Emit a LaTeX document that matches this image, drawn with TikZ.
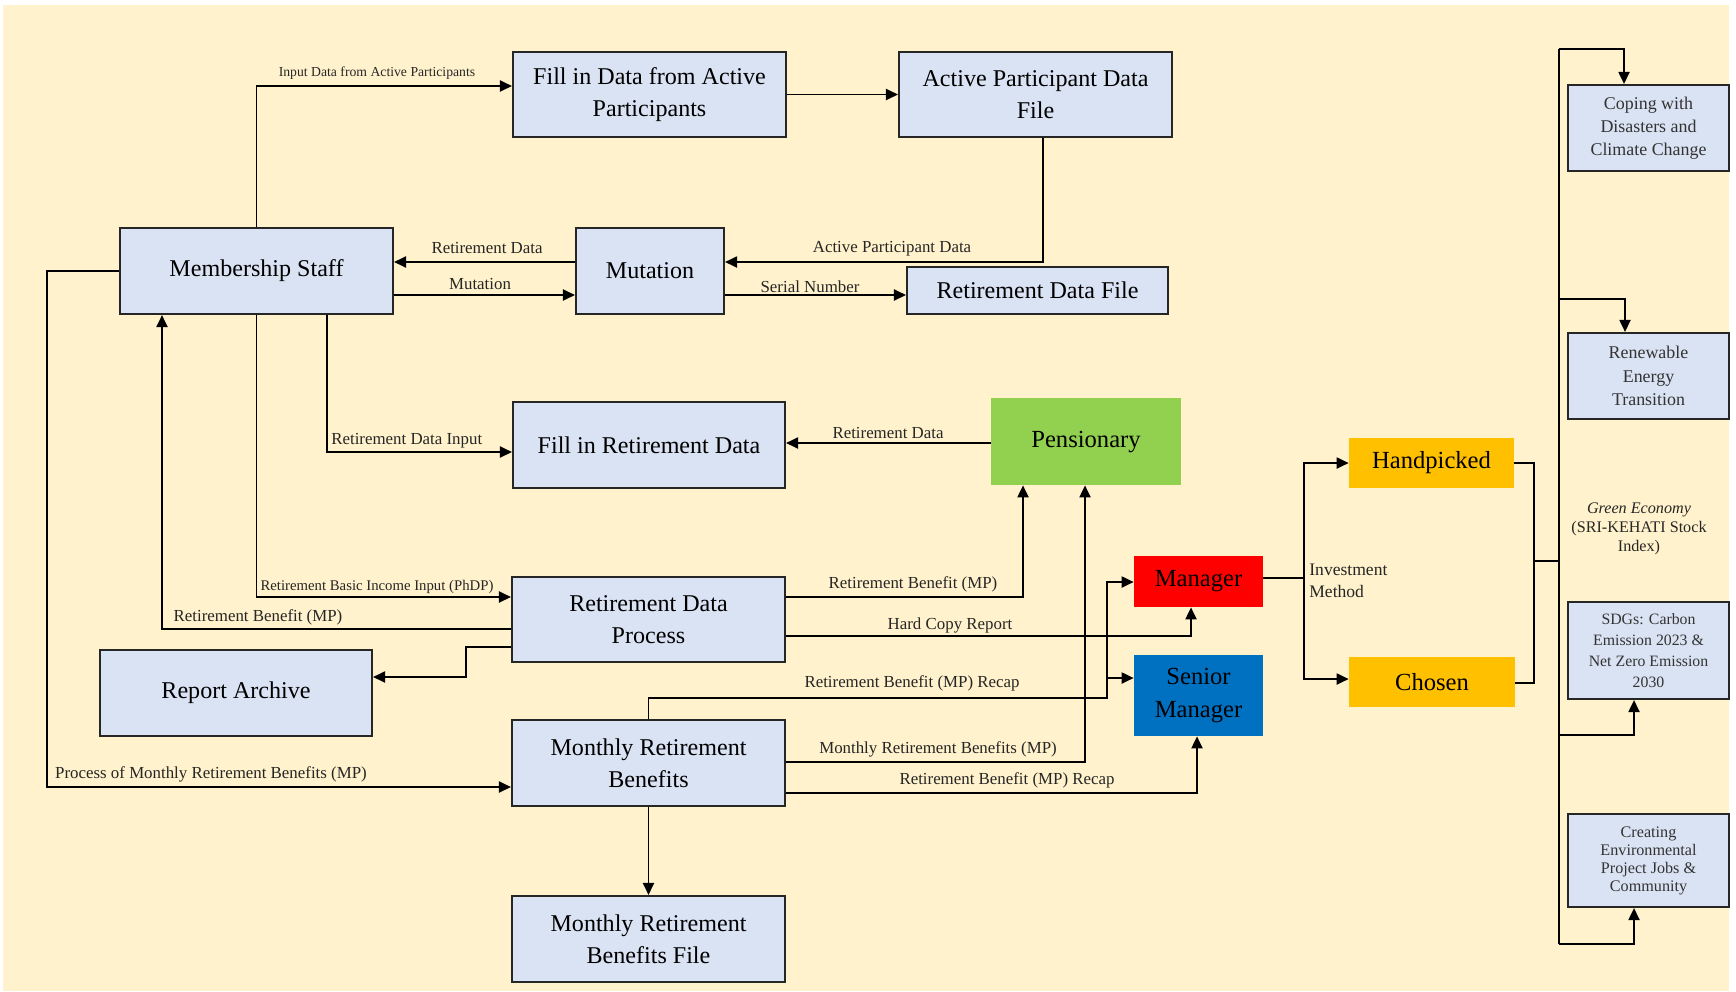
\documentclass[tikz,border=0pt]{standalone}
\usepackage{fontspec}
\setmainfont{Liberation Serif}
\usetikzlibrary{arrows.meta}
\definecolor{cream}{HTML}{FFF2CC}
\definecolor{boxblue}{HTML}{DAE3F3}
\definecolor{pensgreen}{HTML}{92D050}
\definecolor{mgrred}{HTML}{FF0000}
\definecolor{smgrblue}{HTML}{0070C0}
\definecolor{pickyellow}{HTML}{FFC000}

\begin{document}
\begin{tikzpicture}[x=0.02cm, y=-0.02cm,
                    dfd box/.style={draw=black!85, line width=1.2pt, fill=boxblue, align=center, inner sep=1pt,
                        font=\fontsize{13.7}{18}\selectfont},
                    actor box/.style={fill=#1, align=center, inner sep=1pt, font=\fontsize{14}{19}\selectfont},
                    goal box/.style={dfd box, minimum width=3.22cm, text=black!80},
                    link/.style={line width=1.1pt},
                    flow/.style={link, -{Triangle[length=0.24cm,width=0.22cm]}},
                    lbl/.style={inner sep=0pt, text=black!85, font=\fontsize{9.6}{12}\selectfont}]
% background and page size
\useasboundingbox (0,0) rectangle (1736,991);
\fill[cream] (3,5) rectangle (1729,991);

% data flow boxes
\node[dfd box, minimum width=5.46cm, minimum height=1.72cm] (ms) at (256.5,271) {Membership Staff};
\node[dfd box, minimum width=5.46cm, minimum height=1.70cm] (fillact) at (649.5,94.5) {Fill in Data from Active\\Participants};
\node[dfd box, minimum width=5.46cm, minimum height=1.70cm] (apdf) at (1035.5,94.5) {Active Participant Data\\File};
\node[dfd box, minimum width=2.96cm, minimum height=1.72cm] (mut) at (650,271) {Mutation};
\node[dfd box, minimum width=5.22cm, minimum height=0.94cm] (rdf) at (1037.5,290.5) {Retirement Data File};
\node[dfd box, minimum width=5.44cm, minimum height=1.72cm] (fillret) at (649,445) {Fill in Retirement Data};
\node[dfd box, minimum width=5.46cm, minimum height=1.70cm] (rdp) at (648.5,619.5) {Retirement Data\\Process};
\node[dfd box, minimum width=5.44cm, minimum height=1.72cm] (arch) at (236,693) {Report Archive};
\node[dfd box, minimum width=5.46cm, minimum height=1.72cm] (mrb) at (648.5,763) {Monthly Retirement\\Benefits};
\node[dfd box, minimum width=5.46cm, minimum height=1.72cm] (mrbf) at (648.5,939) {Monthly Retirement\\Benefits File};

% actors
\node[actor box=pensgreen, minimum width=3.8cm, minimum height=1.74cm] (pens) at (1086,441.5) {Pensionary};
\node[actor box=mgrred, minimum width=2.58cm, minimum height=1.02cm] (mgr) at (1198.5,581.5) {Manager};
\node[actor box=smgrblue, minimum width=2.58cm, minimum height=1.62cm] (smgr) at (1198.5,695.5) {Senior\\Manager};
\node[actor box=pickyellow, minimum width=3.3cm, minimum height=1.0cm] (hand) at (1431.5,463) {Handpicked};
\node[actor box=pickyellow, minimum width=3.32cm, minimum height=1.0cm] (chosen) at (1432,682) {Chosen};

% green economy goals
\node[goal box, minimum height=1.72cm, font=\fontsize{10.2}{13}\selectfont] (coping) at (1648.5,128) {Coping with\\Disasters and\\Climate Change};
\node[goal box, minimum height=1.72cm, font=\fontsize{10.2}{13.2}\selectfont] (renew) at (1648.5,376) {Renewable\\Energy\\Transition};
\node[goal box, minimum height=1.94cm, font=\fontsize{9}{11.8}\selectfont] (sdg) at (1648.5,650.5) {SDGs: Carbon\\Emission 2023 \&\\Net Zero Emission\\2030};
\node[goal box, minimum height=1.86cm, font=\fontsize{9.2}{10.2}\selectfont] (creat) at (1648.5,860.5) {Creating\\Environmental\\Project Jobs \&\\Community};
\node[lbl, align=center, font=\fontsize{9.2}{10.8}\selectfont] (green) at (1639,529) {\textit{Green Economy}\\(SRI-KEHATI Stock\\Index)};

% upper flows
\draw[flow] (ms.north) |- (fillact.west |- 0,86);
\draw[flow] (fillact.east) -- (apdf.west);
\draw[flow] (1043,0 |- apdf.south) |- (mut.east |- 0,262);
\draw[flow] (mut.west |- 0,262) -- (ms.east |- 0,262);
\draw[flow] (ms.east |- 0,295) -- (mut.west |- 0,295);
\draw[flow] (mut.east |- 0,295) -- (rdf.west |- 0,295);
\draw[flow] (327,0 |- ms.south) |- (fillret.west |- 0,452);
\draw[flow] (pens.west |- 0,443) -- (fillret.east |- 0,443);

% flows around the retirement data process
\draw[flow] (ms.south) |- (rdp.west |- 0,597);
\draw[flow] (rdp.west |- 0,629) -| (162,0 |- ms.south);
\draw[flow] (rdp.west |- 0,647) -| (466,677) -- (arch.east |- 0,677);
\draw[flow] (rdp.east |- 0,597) -| (1023,0 |- pens.south);
\draw[flow] (rdp.east |- 0,636) -| (1191,0 |- mgr.south);

% monthly benefits flows
\draw[flow] (ms.west) -- (47,0 |- ms.west) |- (mrb.west |- 0,787);
\coordinate (recap) at (1107,698); % split point of the recap line
\draw[flow] (mrb.north) |- (recap) |- (mgr.west |- 0,582);
\draw[flow] (recap) |- (smgr.west |- 0,678);
\draw[flow] (mrb.east |- 0,762) -| (1085,0 |- pens.south);
\draw[flow] (mrb.east |- 0,793) -| (1197,0 |- smgr.south);
\draw[flow] (mrb.south) -- (mrbf.north);

% investment method
\coordinate (invest) at (1304,578); % branch point after the manager
\draw[link] (mgr.east |- invest) -- (invest);
\draw[flow] (invest) |- (hand.west);
\draw[flow] (invest) |- (chosen.west |- 0,679);
\coordinate (pick) at (1534,561); % handpicked and chosen meet
\coordinate (ttop) at (1559,49); % top of the green economy line
\coordinate (tbot) at (1559,944); % bottom of the green economy line
\draw[link] (hand.east) -| (pick);
\draw[link] (chosen.east |- 0,683) -| (pick) -- (pick -| ttop);
\draw[link] (ttop) -- (tbot);
\draw[flow] (ttop) -| (1624,0 |- coping.north);
\draw[flow] (ttop |- 0,299) -| (1625,0 |- renew.north);
\draw[flow] (ttop |- 0,735) -| (1634,0 |- sdg.south);
\draw[flow] (tbot) -| (1634,0 |- creat.south);

% flow labels
\node[lbl, font=\fontsize{7.8}{9}\selectfont] (l-input) at (377,73) {Input Data from Active Participants};
\node[lbl] (l-retdata) at (487,248) {Retirement Data};
\node[lbl] (l-mut) at (480,284) {Mutation};
\node[lbl] (l-apd) at (892,249) {Active Participant Data};
\node[lbl] (l-serial) at (810,287) {Serial Number};
\node[lbl, anchor=west] (l-retinput) at (331,441) {Retirement Data Input};
\node[lbl] (l-pensdata) at (888,433) {Retirement Data};
\node[lbl, font=\fontsize{8.4}{10}\selectfont] (l-phdp) at (377,587) {Retirement Basic Income Input (PhDP)};
\node[lbl] (l-benefit) at (258,617) {Retirement Benefit (MP)};
\node[lbl] (l-process) at (211,774) {Process of Monthly Retirement Benefits (MP)};
\node[lbl] (l-pensben) at (913,584) {Retirement Benefit (MP)};
\node[lbl] (l-hard) at (950,625) {Hard Copy Report};
\node[lbl] (l-recap1) at (912,683) {Retirement Benefit (MP) Recap};
\node[lbl] (l-monthly) at (938,749) {Monthly Retirement Benefits (MP)};
\node[lbl] (l-recap2) at (1007,780) {Retirement Benefit (MP) Recap};
\node[lbl, anchor=west, align=left, font=\fontsize{10}{12.5}\selectfont] (l-invest) at (1309,581) {Investment\\Method};
\end{tikzpicture}
\end{document}
